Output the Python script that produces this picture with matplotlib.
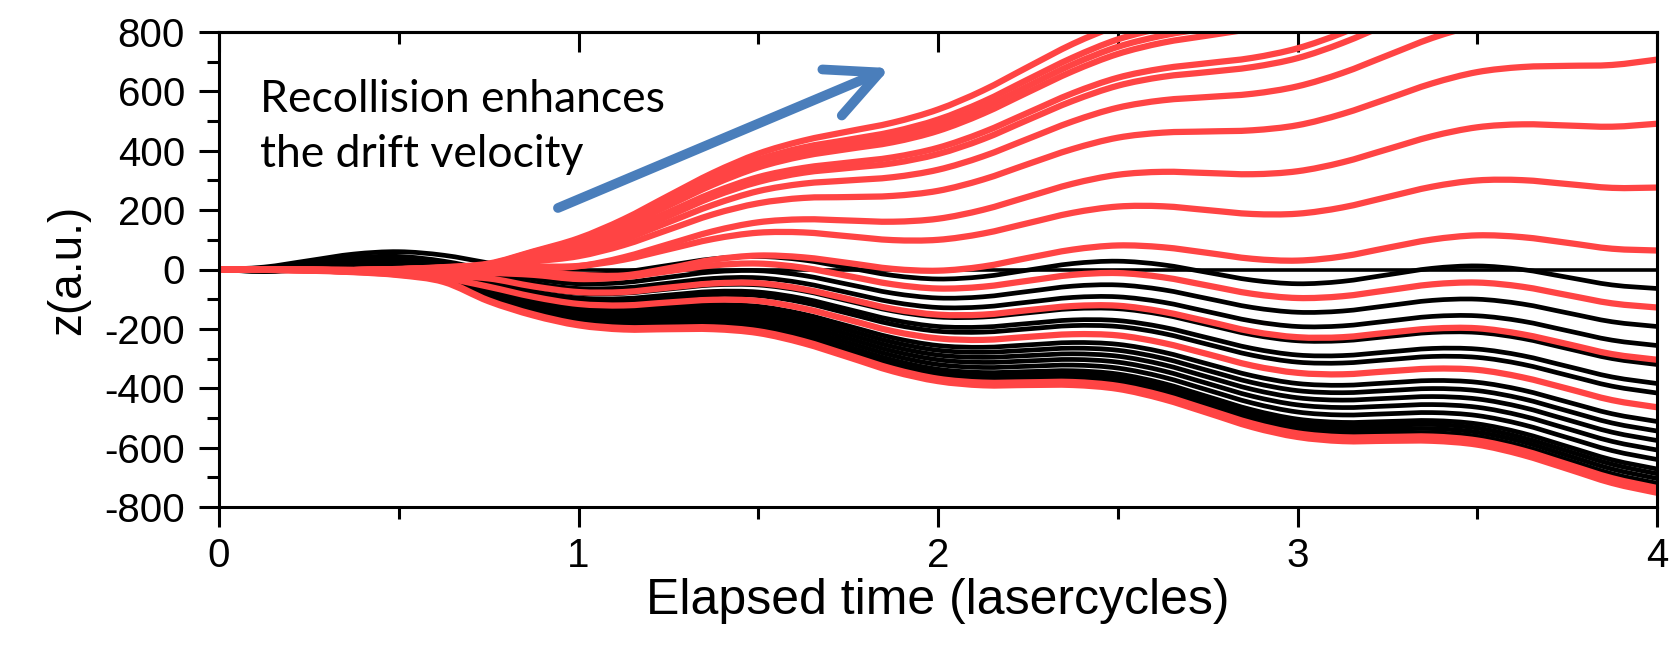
import matplotlib
matplotlib.use("Agg")
import matplotlib.pyplot as plt
from matplotlib.path import Path
from matplotlib.patches import PathPatch

plt.rcParams['font.family'] = ['Liberation Sans', 'DejaVu Sans']
plt.rcParams['axes.unicode_minus'] = False

# time axis (laser cycles), sampled every 1/8 cycle
times = [0, 0.125, 0.25, 0.375, 0.5, 0.625, 0.75, 0.875, 1, 1.125, 1.25, 1.375, 1.5, 1.625,
         1.75, 1.875, 2, 2.125, 2.25, 2.375, 2.5, 2.625, 2.75, 2.875, 3, 3.125, 3.25, 3.375,
         3.5, 3.625, 3.75, 3.875, 4]

# trajectories without recollision (black)
black_paths = [
    [0, 8, 30, 52, 60, 48, 22, -4, -16, -8, 14, 36, 44, 32, 6, -20, -32, -24, -2, 20, 28, 16, -10, -36, -48, -40, -18, 4, 12, 0, -26, -52, -64],
    [0, 4, 22, 40, 44, 28, -2, -32, -48, -44, -26, -8, -4, -20, -50, -80, -96, -92, -74, -56, -52, -68, -98, -128, -144, -140, -122, -104, -100, -116, -146, -176, -192],
    [0, 2, 18, 34, 36, 18, -14, -46, -64, -62, -46, -30, -28, -46, -78, -110, -128, -126, -110, -94, -92, -110, -142, -174, -192, -190, -174, -158, -156, -174, -206, -238, -256],
    [0, 0, 14, 28, 28, 8, -26, -60, -80, -80, -66, -52, -52, -72, -106, -140, -160, -160, -146, -132, -132, -152, -186, -220, -240, -240, -226, -212, -212, -232, -266, -300, -320],
    [0, -2, 10, 22, 20, -2, -38, -74, -96, -98, -86, -74, -76, -98, -134, -170, -192, -194, -182, -170, -172, -194, -230, -266, -288, -290, -278, -266, -268, -290, -326, -362, -384],
    [0, -3, 8, 19, 16, -7, -44, -81, -104, -107, -96, -85, -88, -111, -148, -185, -208, -211, -200, -189, -192, -215, -252, -289, -312, -315, -304, -293, -296, -319, -356, -393, -416],
    [0, -6, 2, 10, 4, -22, -62, -102, -128, -134, -126, -118, -124, -150, -190, -230, -256, -262, -254, -246, -252, -278, -318, -358, -384, -390, -382, -374, -380, -406, -446, -486, -512],
    [0, -7, 0, 7, 0, -27, -68, -109, -136, -143, -136, -129, -136, -163, -204, -245, -272, -279, -272, -265, -272, -299, -340, -381, -408, -415, -408, -401, -408, -435, -476, -517, -544],
    [0, -1, -3, -7, -15, -33, -74, -116, -144, -152, -146, -140, -148, -176, -218, -260, -288, -296, -290, -284, -292, -320, -362, -404, -432, -440, -434, -428, -436, -464, -506, -548, -576],
    [0, -1, -3, -7, -15, -33, -80, -123, -152, -161, -156, -151, -160, -189, -232, -275, -304, -313, -308, -303, -312, -341, -384, -427, -456, -465, -460, -455, -464, -493, -536, -579, -608],
    [0, -1, -3, -7, -15, -33, -86, -130, -160, -170, -166, -162, -172, -202, -246, -290, -320, -330, -326, -322, -332, -362, -406, -450, -480, -490, -486, -482, -492, -522, -566, -610, -640],
    [0, -1, -3, -7, -15, -33, -92, -137, -168, -179, -176, -173, -184, -215, -260, -305, -336, -347, -344, -341, -352, -383, -428, -473, -504, -515, -512, -509, -520, -551, -596, -641, -672],
    [0, -1, -3, -7, -15, -33, -95, -140, -172, -184, -181, -178, -190, -222, -267, -312, -344, -356, -353, -350, -362, -394, -439, -484, -516, -528, -525, -522, -534, -566, -611, -656, -688],
    [0, -1, -3, -7, -15, -33, -98, -144, -176, -188, -186, -184, -196, -228, -274, -320, -352, -364, -362, -360, -372, -404, -450, -496, -528, -540, -538, -536, -548, -580, -626, -672, -704],
    [0, -1, -3, -7, -15, -33, -101, -148, -180, -193, -191, -190, -202, -235, -281, -328, -360, -373, -371, -370, -382, -415, -461, -508, -540, -553, -551, -550, -562, -595, -641, -688, -720],
]

# recolliding trajectories drifting to negative z (red)
red_down_paths = [
    [0, -1, -3, -7, -12, -16, -12, -18, -32, -26, -6, 14, 20, 6, -22, -50, -64, -58, -38, -18, -12, -26, -54, -82, -96, -90, -70, -50, -44, -58, -86, -114, -128],
    [0, -1, -3, -7, -13, -22, -30, -57, -76, -76, -61, -47, -46, -66, -99, -133, -152, -152, -137, -123, -122, -142, -175, -209, -228, -228, -213, -199, -198, -218, -251, -285, -304],
    [0, -1, -3, -7, -14, -28, -58, -92, -116, -121, -111, -102, -106, -131, -169, -208, -232, -237, -227, -218, -222, -247, -285, -324, -348, -353, -343, -334, -338, -363, -401, -440, -464],
    [0, -1, -3, -8, -17, -38, -104, -151, -184, -197, -196, -195, -208, -241, -288, -335, -368, -381, -380, -379, -392, -425, -472, -519, -552, -565, -564, -563, -576, -609, -656, -703, -736],
    [0, -1, -4, -9, -19, -42, -107, -155, -188, -202, -201, -201, -214, -248, -295, -343, -376, -390, -389, -389, -402, -436, -483, -531, -564, -578, -577, -577, -590, -624, -671, -719, -752],
]

# recolliding trajectories with enhanced positive drift (red), cut where they leave the frame
red_up_paths = [
    [0, 0, -1, -2, 2, 8, 20, 61, 105, 169, 248, 326, 390, 434, 465, 495, 539, 603, 682, 760, 824],
    [0, 0, -1, -2, 1, 7, 18, 59, 100, 161, 235, 310, 370, 411, 437, 464, 505, 565, 640, 714, 775, 815],
    [0, 0, -1, -2, 1, 6, 17, 56, 95, 154, 227, 300, 359, 397, 422, 447, 486, 545, 618, 691, 750, 788, 813],
    [0, 0, -1, -2, 1, 6, 16, 47, 85, 143, 215, 286, 344, 382, 406, 429, 467, 525, 597, 668, 726, 764, 788, 811],
    [0, 0, -1, -2, 1, 5, 15, 43, 75, 127, 193, 259, 311, 342, 360, 378, 410, 462, 528, 594, 646, 677, 695, 713, 745, 797, 863],
    [0, 0, -1, -2, 1, 5, 14, 35, 65, 116, 180, 245, 295, 326, 342, 358, 389, 439, 504, 568, 619, 649, 665, 682, 712, 763, 827],
    [0, 0, -1, -2, 1, 4, 12, 30, 55, 100, 159, 218, 264, 289, 300, 311, 336, 381, 440, 499, 545, 570, 581, 592, 617, 662, 721, 780, 826],
    [0, 0, -1, -2, 1, 4, 11, 27, 45, 82, 134, 186, 223, 241, 244, 248, 265, 303, 355, 406, 444, 461, 465, 469, 486, 524, 575, 627, 665, 682, 686, 689, 707],
    [0, 0, -1, -2, 0, 2, 4, 3, 11, 41, 85, 129, 159, 169, 165, 161, 171, 201, 245, 289, 319, 329, 325, 321, 331, 361, 405, 449, 479, 489, 485, 481, 491],
    [0, 0, -1, -2, 0, 2, 5, 9, 12, 33, 68, 103, 124, 125, 112, 99, 100, 121, 156, 191, 212, 213, 200, 187, 188, 209, 244, 279, 300, 301, 288, 275, 276],
    [0, 0, -1, -2, 0, 1, 2, -6, -18, -20, 4, 33, 47, 41, 22, 2, -4, 10, 39, 67, 81, 75, 56, 36, 30, 44, 73, 101, 115, 109, 90, 70, 64],
]

red = '#ff4444'
blue = '#4a7ebb'


def spline_line(ax, xs, ys, color, lw, z):
    # smooth (spline-connected) line through the sample points, like Origin's spline connect
    pts = list(zip(xs, ys))
    n = len(pts)
    verts = [pts[0]]
    codes = [Path.MOVETO]
    for i in range(n - 1):
        p0 = pts[i - 1] if i > 0 else pts[i]
        p1 = pts[i]
        p2 = pts[i + 1]
        p3 = pts[i + 2] if i + 2 < n else pts[i + 1]
        c1 = (p1[0] + (p2[0] - p0[0]) / 6, p1[1] + (p2[1] - p0[1]) / 6)
        c2 = (p2[0] - (p3[0] - p1[0]) / 6, p2[1] - (p3[1] - p1[1]) / 6)
        verts += [c1, c2, p2]
        codes += [Path.CURVE4] * 3
    ax.add_patch(PathPatch(Path(verts, codes), facecolor='none', edgecolor=color,
                           lw=lw, zorder=z, joinstyle='round', capstyle='butt'))


fig = plt.figure(figsize=(16.72, 6.45), dpi=100)
ax = fig.add_axes([219 / 1672, 1 - 507 / 645, 1438 / 1672, 475 / 645])

ax.axhline(0, color='black', lw=2.6, zorder=1)
for path in black_paths:
    spline_line(ax, times, path, 'black', 3.4, 2)
for path in red_down_paths:
    spline_line(ax, times, path, red, 4.5, 3)
for path in red_up_paths:
    spline_line(ax, times[:len(path)], path, red, 4.5, 3)

ax.set_xlim(0, 4)
ax.set_ylim(-800, 800)
ax.set_xticks([0, 1, 2, 3, 4])
ax.set_xticks([0.5, 1.5, 2.5, 3.5], minor=True)
ax.set_yticks(range(-800, 801, 200))
ax.set_yticks(range(-700, 800, 200), minor=True)

ax.tick_params(which='major', direction='out', length=14.4, width=2.2, top=False, right=False)
ax.tick_params(which='minor', direction='out', length=8.6, width=2.2, top=False, right=False)
ax.tick_params(axis='x', labelsize=29, pad=7)
ax.tick_params(axis='y', labelsize=29, pad=10)

top = ax.secondary_xaxis('top')
top.set_xticks([0, 1, 2, 3, 4])
top.set_xticks([0.5, 1.5, 2.5, 3.5], minor=True)
top.tick_params(which='major', direction='in', length=14.4, width=2.2, labeltop=False)
top.tick_params(which='minor', direction='in', length=8.6, width=2.2)
top.spines['top'].set_linewidth(2.2)

for s in ax.spines.values():
    s.set_linewidth(2.2)
    s.set_zorder(5)

ax.set_xlabel('Elapsed time (lasercycles)', fontsize=36, labelpad=2)
ax.set_ylabel('z(a.u.)', fontsize=33, labelpad=10)

ax.text(0.0285, 0.8316, 'Recollision enhances', transform=ax.transAxes,
        fontsize=32, family=['Lato', 'DejaVu Sans'], va='baseline', ha='left')
ax.text(0.0285, 0.7158, 'the drift velocity', transform=ax.transAxes,
        fontsize=32, family=['Lato', 'DejaVu Sans'], va='baseline', ha='left')

ax.annotate('', xy=(0.4666, 0.924), xytext=(0.2357, 0.6295),
            xycoords='axes fraction', textcoords='axes fraction',
            arrowprops=dict(arrowstyle='->,head_length=1.55,head_width=0.75',
                            color=blue, lw=7, mutation_scale=24,
                            shrinkA=0, shrinkB=0, capstyle='round', joinstyle='round'),
            zorder=6)

fig.savefig('out.png', dpi=100)
